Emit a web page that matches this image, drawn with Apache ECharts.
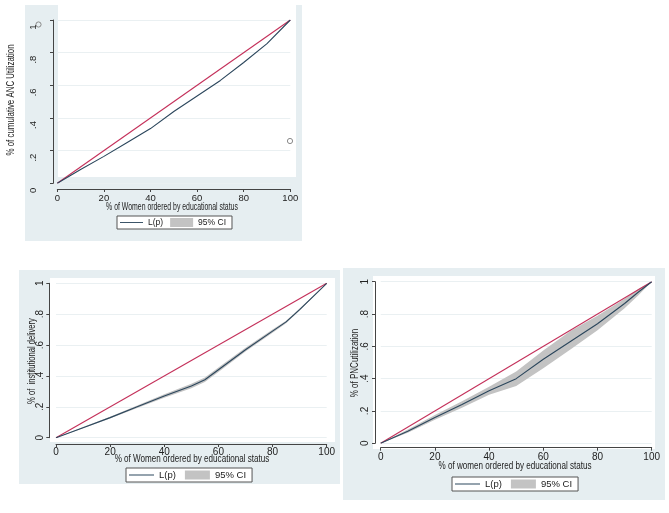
<!DOCTYPE html>
<html>
<head>
<meta charset="utf-8">
<script src="https://cdn.jsdelivr.net/npm/echarts@6/dist/echarts.min.js"></script>
<style>
html,body{margin:0;padding:0;background:#fff;}
#c{width:669px;height:513px;}
</style>
</head>
<body>
<div id="c"></div>
<script>
// ---------- data ----------
const xTickLabels = ['0', '20', '40', '60', '80', '100'];
const yTickLabels = ['0', '.2', '.4', '.6', '.8', '1'];
const equalityX = [0, 100];
const equalityY = [0, 1];

// ANC utilization (top-left)
const ancX  = [0, 10, 20, 30, 40, 50, 60, 70, 80, 90, 100];
const ancLp = [0, 0.085, 0.165, 0.25, 0.335, 0.44, 0.535, 0.63, 0.74, 0.855, 1];

// Institutional delivery (bottom-left)
const delX  = [0, 10, 20, 30, 40, 50, 55, 60, 70, 80, 85, 90, 100];
const delLp = [0, 0.065, 0.13, 0.2, 0.27, 0.335, 0.375, 0.44, 0.57, 0.69, 0.75, 0.83, 1];
const delLo = [0, 0.061, 0.124, 0.192, 0.258, 0.32, 0.36, 0.426, 0.558, 0.68, 0.742, 0.824, 1];
const delHi = [0, 0.069, 0.136, 0.208, 0.282, 0.35, 0.39, 0.454, 0.582, 0.70, 0.758, 0.836, 1];

// PNC utilization (bottom-right)
const pncX  = [0, 10, 20, 30, 40, 50, 60, 70, 80, 90, 95, 100];
const pncLp = [0, 0.075, 0.16, 0.24, 0.325, 0.40, 0.52, 0.63, 0.74, 0.865, 0.935, 1];
const pncLo = [0, 0.065, 0.145, 0.22, 0.30, 0.355, 0.465, 0.58, 0.70, 0.835, 0.915, 1];
const pncHi = [0, 0.085, 0.175, 0.26, 0.35, 0.445, 0.575, 0.695, 0.79, 0.895, 0.955, 1];

const seriesNames = ['L(p)', '95% CI'];
const xTitles = ['% of Women ordered by educational status', '% of Women ordered by educational status', '% of women ordered by educational status'];
const yTitles = ['% of cumulative ANC Utilization', '% of  institutional delivery', '% of PNCutilization'];

// ---------- styles / layout ----------
const FONT = "'Liberation Sans',Arial,sans-serif";
const RED = '#c4305a';
const BLUE = '#2b465c';
const GREY = '#c3c3c3';
const PANEL = '#e6eef1';

const layout = [
  { panel: [25, 5, 277, 236], plot: [58, 5, 238, 172], grid: [57.3, 20, 233, 163.3],
    xOff: 5.7, yOff: 4.3, xLabMargin: 4, yLabMargin: 15, yLabShift: 14,
    xTitle: [172, 207, 0.69], yTitle: [11, 100, 0.79], legend: [117, 216], fs: 9.5, lfs: 8.5, iw: 23, gap: 7 },
  { panel: [19, 270, 321, 214], plot: [50, 278, 285, 164], grid: [56, 283.3, 270.7, 154.4],
    xOff: 6.3, yOff: 6.7, xLabMargin: 3, yLabMargin: 4, yLabShift: 0,
    xTitle: [192, 459, 0.81], yTitle: [32, 361, 0.76], legend: [126, 468], fs: 10, lfs: 9.5, iw: 25, gap: 9 },
  { panel: [343, 268, 322, 232], plot: [373, 276, 282, 173], grid: [380.7, 281.7, 271, 161.6],
    xOff: 4.4, yOff: 5.7, xLabMargin: 5, yLabMargin: 5, yLabShift: 0,
    xTitle: [515, 466, 0.81], yTitle: [355, 363, 0.8], legend: [452, 477], fs: 10, lfs: 9.5, iw: 25, gap: 9 }
];

const panelsData = [
  { x: ancX, lp: ancLp, lo: null, hi: null },
  { x: delX, lp: delLp, lo: delLo, hi: delHi },
  { x: pncX, lp: pncLp, lo: pncLo, hi: pncHi }
];

const option = {
  animation: false,
  backgroundColor: '#ffffff',
  textStyle: { fontFamily: FONT },
  grid: [], xAxis: [], yAxis: [], series: [], legend: [], graphic: []
};

layout.forEach((L, i) => {
  const D = panelsData[i];
  option.graphic.push({ type: 'rect', z: -20, silent: true,
    shape: { x: L.panel[0], y: L.panel[1], width: L.panel[2], height: L.panel[3] },
    style: { fill: PANEL } });
  option.graphic.push({ type: 'rect', z: -19, silent: true,
    shape: { x: L.plot[0], y: L.plot[1], width: L.plot[2], height: L.plot[3] },
    style: { fill: '#ffffff' } });
  // axis titles (condensed like the original)
  option.graphic.push({ type: 'text', silent: true, x: L.xTitle[0], y: L.xTitle[1], scaleX: L.xTitle[2],
    style: { text: xTitles[i], fontSize: 10, fontFamily: FONT, fill: '#222', align: 'center', verticalAlign: 'middle' } });
  option.graphic.push({ type: 'text', silent: true, x: L.yTitle[0], y: L.yTitle[1], scaleX: L.yTitle[2], rotation: Math.PI / 2,
    style: { text: yTitles[i], fontSize: 10, fontFamily: FONT, fill: '#222', align: 'center', verticalAlign: 'middle' } });

  option.grid.push({ left: L.grid[0], top: L.grid[1], width: L.grid[2], height: L.grid[3], containLabel: false });
  option.xAxis.push({
    type: 'value', gridIndex: i, min: 0, max: 100, interval: 20, offset: L.xOff,
    axisLine: { show: true, onZero: false, lineStyle: { color: '#444', width: 1 } },
    axisTick: { show: true, length: 3, lineStyle: { color: '#444' } },
    axisLabel: { margin: L.xLabMargin, fontSize: L.fs, color: '#222', fontFamily: FONT,
      formatter: v => xTickLabels[Math.round(v / 20)] },
    splitLine: { show: false }
  });
  option.yAxis.push({
    type: 'value', gridIndex: i, min: 0, max: 1, interval: 0.2, offset: L.yOff,
    axisLine: { show: true, onZero: false, lineStyle: { color: '#444', width: 1 } },
    axisTick: { show: true, length: 3, lineStyle: { color: '#444' } },
    axisLabel: { rotate: 90, margin: L.yLabMargin, fontSize: L.fs, color: '#222', fontFamily: FONT,
      padding: [0, L.yLabShift, 0, 0],
      formatter: v => yTickLabels[Math.round(v / 0.2)] },
    splitLine: { show: true, lineStyle: { color: '#eaf0f2', width: 1 } }
  });

  // CI band
  if (D.lo) {
    const X = D.x, LO = D.lo, HI = D.hi;
    option.series.push({
      type: 'custom', name: seriesNames[1], xAxisIndex: i, yAxisIndex: i, silent: true,
      itemStyle: { color: GREY }, z: 1,
      data: X.map((x, k) => [x, LO[k], HI[k]]),
      encode: { x: 0, y: [1, 2] },
      renderItem: function (params, api) {
        if (params.dataIndex !== 0) return null;
        const pts = [];
        for (let k = 0; k < X.length; k++) pts.push(api.coord([X[k], LO[k]]));
        for (let k = X.length - 1; k >= 0; k--) pts.push(api.coord([X[k], HI[k]]));
        return { type: 'polygon', shape: { points: pts }, style: { fill: GREY } };
      }
    });
  } else {
    option.series.push({
      type: 'line', name: seriesNames[1], xAxisIndex: i, yAxisIndex: i, data: [],
      symbol: 'none', itemStyle: { color: GREY }
    });
  }
  // line of equality
  option.series.push({
    type: 'line', name: '_eq' + i, xAxisIndex: i, yAxisIndex: i,
    data: equalityX.map((x, k) => [x, equalityY[k]]), symbol: 'none', silent: true,
    lineStyle: { color: RED, width: 1.1 }, itemStyle: { color: RED }, z: 3
  });
  // concentration curve
  option.series.push({
    type: 'line', name: seriesNames[0], xAxisIndex: i, yAxisIndex: i,
    data: D.x.map((x, k) => [x, D.lp[k]]), symbol: 'none', silent: true,
    lineStyle: { color: BLUE, width: 1.1 }, itemStyle: { color: BLUE }, z: 4
  });

  option.legend.push({
    left: L.legend[0], top: L.legend[1], orient: 'horizontal',
    backgroundColor: '#ffffff', borderColor: '#555', borderWidth: 1,
    padding: [2, 6, 2, 3], itemGap: L.gap, itemWidth: L.iw, itemHeight: 9,
    selectedMode: false,
    textStyle: { fontSize: L.lfs, color: '#222', fontFamily: FONT },
    data: [
      { name: seriesNames[0], icon: 'path://M0,0 L100,0 L100,4 L0,4 Z', itemStyle: { color: BLUE } },
      { name: seriesNames[1], icon: 'rect', itemStyle: { color: GREY } }
    ]
  });
});

// stray circle marks visible in the scanned figure
option.graphic.push({ type: 'circle', silent: true, shape: { cx: 38.5, cy: 24.5, r: 2.6 },
  style: { fill: 'none', stroke: '#8a8a8a', lineWidth: 1 } });
option.graphic.push({ type: 'circle', silent: true, shape: { cx: 290, cy: 141, r: 2.6 },
  style: { fill: 'none', stroke: '#8a8a8a', lineWidth: 1 } });

const chart = echarts.init(document.getElementById('c'), null, { renderer: 'canvas' });
chart.setOption(option);
</script>
</body>
</html>
